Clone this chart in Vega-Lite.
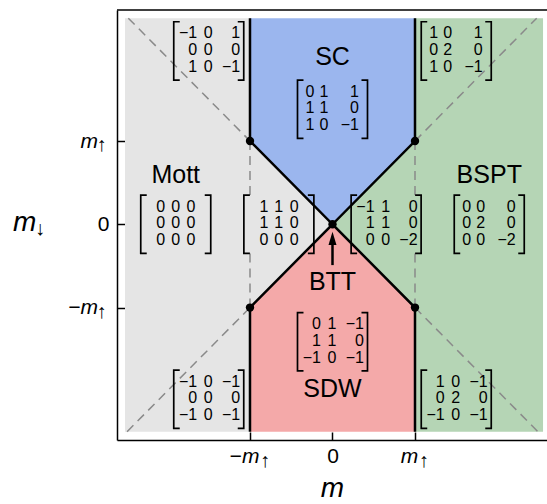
{
  "$schema": "https://vega.github.io/schema/vega-lite/v6.json",
  "width": 430,
  "height": 430,
  "autosize": {"type": "none"},
  "padding": {"left": 117, "top": 10, "right": 0, "bottom": 64},
  "background": "white",
  "config": {"view": {"stroke": null}, "font": "Liberation Sans"},
  "encoding": {
    "x": {
      "field": "x", "type": "quantitative",
      "scale": {"domain": [-2.612, 2.6], "nice": false, "zero": false},
      "axis": {
        "values": [-1, 0, 1], "title": "m", "grid": false,
        "domainColor": "black", "domainWidth": 1.5,
        "tickColor": "black", "tickWidth": 1.5, "tickSize": -8,
        "labelExpr": "datum.value == 0 ? '0' : (datum.value < 0 ? '−m' : 'm')",
        "labelFont": "Liberation Sans", "labelFontSize": 21, "labelColor": "black",
        "labelFontStyle": {"condition": {"test": "datum.value == 0", "value": "normal"}, "value": "italic"},
        "labelOffset": {"condition": {"test": "datum.value == 0", "value": 0}, "value": -6},
        "labelBaseline": "alphabetic", "labelPadding": 30, "labelFlush": false, "labelOverlap": false,
        "titleFont": "Liberation Sans", "titleFontSize": 28, "titleFontStyle": "italic",
        "titleFontWeight": "normal", "titleColor": "black", "titleBaseline": "alphabetic", "titlePadding": 30
      }
    },
    "y": {
      "field": "y", "type": "quantitative",
      "scale": {"domain": [-2.59, 2.573], "nice": false, "zero": false},
      "axis": {
        "values": [-1, 0, 1], "title": "m", "grid": false,
        "domainColor": "black", "domainWidth": 1.5,
        "tickColor": "black", "tickWidth": 1.5, "tickSize": -8,
        "labelExpr": "datum.value == 0 ? '0' : (datum.value < 0 ? '−m' : 'm')",
        "labelFont": "Liberation Sans", "labelFontSize": 21, "labelColor": "black",
        "labelFontStyle": {"condition": {"test": "datum.value == 0", "value": "normal"}, "value": "italic"},
        "labelAlign": "right", "labelBaseline": "middle",
        "labelPadding": {"condition": {"test": "datum.value == 0", "value": 16}, "value": 27.5},
        "labelFlush": false, "labelOverlap": false,
        "titleAngle": 0, "titleAlign": "right", "titleBaseline": "line-bottom", "titleLineHeight": 6,
        "titleFont": "Liberation Sans", "titleFontSize": 28, "titleFontStyle": "italic",
        "titleFontWeight": "normal", "titleColor": "black", "titlePadding": 32
      }
    }
  },
  "layer": [
    {
      "data": {"values": [
        {"part": "a", "x": -2.515, "y": -2.49, "y2": 2.475},
        {"part": "a", "x": -1, "y": -2.49, "y2": 2.475},
        {"part": "b", "x": -1, "y": -1, "y2": 1},
        {"part": "b", "x": 0, "y": 0, "y2": 0}
      ]},
      "mark": {"type": "area", "orient": "vertical", "color": "#e5e5e5", "opacity": 1},
      "encoding": {"y2": {"field": "y2"}, "detail": {"field": "part"}}
    },
    {
      "data": {"values": [
        {"part": "a", "x": 0, "y": 0, "y2": 0},
        {"part": "a", "x": 1, "y": -1, "y2": 1},
        {"part": "b", "x": 1, "y": -2.49, "y2": 2.475},
        {"part": "b", "x": 2.552, "y": -2.49, "y2": 2.475}
      ]},
      "mark": {"type": "area", "orient": "vertical", "color": "#b5d5b5", "opacity": 1},
      "encoding": {"y2": {"field": "y2"}, "detail": {"field": "part"}}
    },
    {
      "data": {"values": [
        {"x": -1, "y": 1, "y2": 2.475},
        {"x": 0, "y": 0, "y2": 2.475},
        {"x": 1, "y": 1, "y2": 2.475}
      ]},
      "mark": {"type": "area", "orient": "vertical", "color": "#9bb6ee", "opacity": 1},
      "encoding": {"y2": {"field": "y2"}}
    },
    {
      "data": {"values": [
        {"x": -1, "y": -2.49, "y2": -1},
        {"x": 0, "y": -2.49, "y2": 0},
        {"x": 1, "y": -2.49, "y2": -1}
      ]},
      "mark": {"type": "area", "orient": "vertical", "color": "#f4a9a9", "opacity": 1},
      "encoding": {"y2": {"field": "y2"}}
    },
    {
      "data": {"values": [
        {"seg": "d1", "o": 1, "x": -2.475, "y": 2.475}, {"seg": "d1", "o": 2, "x": -1, "y": 1},
        {"seg": "d2", "o": 1, "x": -2.49, "y": -2.49}, {"seg": "d2", "o": 2, "x": -1, "y": -1},
        {"seg": "d3", "o": 1, "x": 1, "y": 1}, {"seg": "d3", "o": 2, "x": 2.475, "y": 2.475},
        {"seg": "d4", "o": 1, "x": 1, "y": -1}, {"seg": "d4", "o": 2, "x": 2.49, "y": -2.49},
        {"seg": "d5", "o": 1, "x": -1, "y": 1}, {"seg": "d5", "o": 2, "x": -1, "y": 0.35},
        {"seg": "d6", "o": 1, "x": -1, "y": -0.35}, {"seg": "d6", "o": 2, "x": -1, "y": -1},
        {"seg": "d7", "o": 1, "x": 1, "y": 1}, {"seg": "d7", "o": 2, "x": 1, "y": 0.35},
        {"seg": "d8", "o": 1, "x": 1, "y": -0.35}, {"seg": "d8", "o": 2, "x": 1, "y": -1}
      ]},
      "mark": {"type": "line", "color": "#8a8a8a", "strokeWidth": 1.5, "strokeDash": [9, 6]},
      "encoding": {"detail": {"field": "seg"}, "order": {"field": "o", "type": "quantitative"}}
    },
    {
      "data": {"values": [
        {"seg": "up", "o": 1, "x": -1, "y": 2.475}, {"seg": "up", "o": 2, "x": -1, "y": 1},
        {"seg": "up", "o": 3, "x": 0, "y": 0}, {"seg": "up", "o": 4, "x": 1, "y": 1},
        {"seg": "up", "o": 5, "x": 1, "y": 2.475},
        {"seg": "lo", "o": 1, "x": -1, "y": -2.49}, {"seg": "lo", "o": 2, "x": -1, "y": -1},
        {"seg": "lo", "o": 3, "x": 0, "y": 0}, {"seg": "lo", "o": 4, "x": 1, "y": -1},
        {"seg": "lo", "o": 5, "x": 1, "y": -2.49}
      ]},
      "mark": {"type": "line", "color": "black", "strokeWidth": 2.5, "strokeJoin": "miter"},
      "encoding": {"detail": {"field": "seg"}, "order": {"field": "o", "type": "quantitative"}}
    },
    {
      "data": {"values": [
        {"x": -1, "y": 1}, {"x": 1, "y": 1}, {"x": -1, "y": -1}, {"x": 1, "y": -1}, {"x": 0, "y": 0}
      ]},
      "mark": {"type": "point", "filled": true, "color": "black", "opacity": 1, "size": 70}
    },
    {
      "data": {"values": [{"x": 0, "y": -0.49, "y2": -0.2}]},
      "mark": {"type": "rule", "color": "black", "strokeWidth": 2.5},
      "encoding": {"y2": {"field": "y2"}}
    },
    {
      "data": {"values": [{"x": 0, "y": -0.169}]},
      "mark": {"type": "point", "shape": "M0,-1L0.6,1L-0.6,1Z", "filled": true, "color": "black", "opacity": 1, "size": 177}
    },
    {
      "data": {"values": [{"x": -2.612, "x2": 2.6, "y": 2.573}]},
      "mark": {"type": "rule", "color": "black", "strokeWidth": 1.5},
      "encoding": {"x2": {"field": "x2"}}
    },
    {
      "data": {"values": [
        {"x": -1.5, "y": 2.432, "y2": 1.732},
        {"x": 1.5, "y": 2.432, "y2": 1.732},
        {"x": 0, "y": 1.732, "y2": 1.032},
        {"x": -1.9, "y": 0.35, "y2": -0.35},
        {"x": -0.65, "y": 0.35, "y2": -0.35},
        {"x": 0.65, "y": 0.35, "y2": -0.35},
        {"x": 1.9, "y": 0.35, "y2": -0.35},
        {"x": 0, "y": -1.061, "y2": -1.761},
        {"x": -1.5, "y": -1.75, "y2": -2.45},
        {"x": 1.5, "y": -1.75, "y2": -2.45}
      ]},
      "mark": {"type": "rect", "width": 70, "filled": false, "stroke": "black", "strokeWidth": 1.7,
        "strokeDash": [6, 58, 70.3, 58, 64.3]},
      "encoding": {"y2": {"field": "y2"}}
    },
    {
      "data": {"values": [
        {"x": -1.6395, "y": 2.389, "t": "−1\n0\n1"},
        {"x": -1.4516, "y": 2.389, "t": "0\n0\n0"},
        {"x": -1.1183, "y": 2.389, "t": "1\n0\n−1"},
        {"x": 1.2817, "y": 2.389, "t": "1\n0\n1"},
        {"x": 1.4514, "y": 2.389, "t": "0\n2\n0"},
        {"x": 1.8211, "y": 2.389, "t": "1\n0\n−1"},
        {"x": -0.2183, "y": 1.689, "t": "0\n1\n1"},
        {"x": -0.0486, "y": 1.689, "t": "1\n1\n0"},
        {"x": 0.3211, "y": 1.689, "t": "1\n0\n−1"},
        {"x": -2.0274, "y": 0.307, "t": "0\n0\n0"},
        {"x": -1.848, "y": 0.307, "t": "0\n0\n0"},
        {"x": -1.6613, "y": 0.307, "t": "0\n0\n0"},
        {"x": -0.7774, "y": 0.307, "t": "1\n1\n0"},
        {"x": -0.598, "y": 0.307, "t": "1\n1\n0"},
        {"x": -0.4113, "y": 0.307, "t": "0\n0\n0"},
        {"x": 0.5105, "y": 0.307, "t": "−1\n1\n0"},
        {"x": 0.6984, "y": 0.307, "t": "1\n1\n0"},
        {"x": 1.0317, "y": 0.307, "t": "0\n0\n−2"},
        {"x": 1.6817, "y": 0.307, "t": "0\n0\n0"},
        {"x": 1.8514, "y": 0.307, "t": "0\n2\n0"},
        {"x": 2.2211, "y": 0.307, "t": "0\n0\n−2"},
        {"x": -0.1395, "y": -1.104, "t": "0\n1\n−1"},
        {"x": 0.0484, "y": -1.104, "t": "1\n1\n0"},
        {"x": 0.3817, "y": -1.104, "t": "−1\n0\n−1"},
        {"x": -1.6395, "y": -1.793, "t": "−1\n0\n−1"},
        {"x": -1.4516, "y": -1.793, "t": "0\n0\n0"},
        {"x": -1.1183, "y": -1.793, "t": "−1\n0\n−1"},
        {"x": 1.3605, "y": -1.793, "t": "1\n0\n−1"},
        {"x": 1.5484, "y": -1.793, "t": "0\n2\n0"},
        {"x": 1.8817, "y": -1.793, "t": "−1\n0\n−1"}
      ]},
      "mark": {"type": "text", "align": "right", "baseline": "top", "font": "Liberation Sans",
        "fontSize": 16, "lineHeight": 16.7, "lineBreak": "\n", "color": "black"},
      "encoding": {"text": {"field": "t"}}
    },
    {
      "data": {"values": [
        {"x": 0, "y": 1.915, "t": "SC"},
        {"x": -1.9, "y": 0.5, "t": "Mott"},
        {"x": 1.9, "y": 0.5, "t": "BSPT"},
        {"x": 0, "y": -0.789, "t": "BTT"},
        {"x": 0, "y": -2.07, "t": "SDW"}
      ]},
      "mark": {"type": "text", "align": "center", "baseline": "alphabetic", "font": "Liberation Sans",
        "fontSize": 25, "color": "black"},
      "encoding": {"text": {"field": "t"}}
    },
    {
      "data": {"values": [
        {"x": -0.818, "y": -2.91, "t": "↑"},
        {"x": 1.107, "y": -2.91, "t": "↑"},
        {"x": -2.8, "y": 0.88, "t": "↑"},
        {"x": -2.8, "y": -1.12, "t": "↑"},
        {"x": -3.545, "y": -0.128, "t": "↓"}
      ]},
      "mark": {"type": "text", "align": "center", "baseline": "alphabetic", "font": "Liberation Sans",
        "fontSize": 20, "color": "black"},
      "encoding": {"text": {"field": "t"}}
    }
  ]
}
